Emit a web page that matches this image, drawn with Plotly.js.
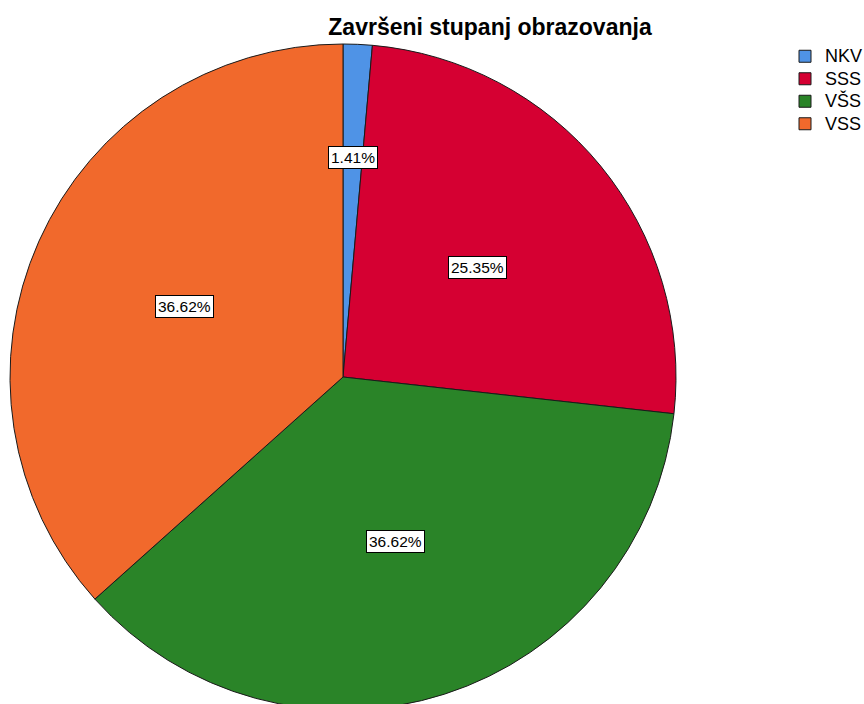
<!DOCTYPE html>
<html>
<head>
<meta charset="utf-8">
<script src="https://cdn.plot.ly/plotly-3.0.1.min.js"></script>
<style>
html,body{margin:0;padding:0;overflow:hidden;background:#fff;}
#chart{width:864px;height:720px;}
</style>
</head>
<body>
<div id="chart"></div>
<script>
const categories = ["NKV", "SSS", "VŠS", "VSS"];
const counts = [1, 18, 26, 26];
const sliceColors = ["#4F93E6", "#D50032", "#2A8428", "#F1692C"];
const chartTitle = "Završeni stupanj obrazovanja";

const W = 864, H = 720;
const cx = 343, cy = 377, R = 333;

const total = counts.reduce((a, b) => a + b, 0);
const annotations = [];
let cum = 0;
counts.forEach((v, i) => {
  const frac = v / total;
  const mid = cum + frac / 2;
  cum += frac;
  const ang = Math.PI / 2 - mid * 2 * Math.PI;
  const rr = frac < 0.05 ? 0.66 : 0.52;
  const px = cx + rr * R * Math.cos(ang);
  const py = cy - rr * R * Math.sin(ang);
  annotations.push({
    xref: "paper", yref: "paper",
    x: px / W, y: 1 - py / H,
    xanchor: "center", yanchor: "middle",
    text: (frac * 100).toFixed(2) + "%",
    showarrow: false,
    font: {family: "Liberation Sans, Arial, sans-serif", size: 15.5, color: "#000"},
    bgcolor: "#ffffff",
    bordercolor: "#000000",
    borderwidth: 1,
    borderpad: 2
  });
});

const legendLabels = categories.map(c => '<span style="font-size:18px">' + c + '</span>');

const trace = {
  type: "pie",
  labels: legendLabels,
  values: counts,
  sort: false,
  direction: "clockwise",
  rotation: 0,
  textinfo: "none",
  hoverinfo: "percent",
  marker: {colors: sliceColors, line: {color: "#1a1a1a", width: 1}},
  domain: {x: [(cx - R) / W, (cx + R) / W], y: [1 - (cy + R) / H, 1 - (cy - R) / H]}
};

const layout = {
  width: W, height: H,
  margin: {l: 0, r: 0, t: 0, b: 0, autoexpand: false},
  paper_bgcolor: "#fff",
  title: {
    text: "<b>" + chartTitle + "</b>",
    font: {family: "Liberation Sans, Arial, sans-serif", size: 23, color: "#000"},
    x: 490 / W, xanchor: "center",
    xref: "container",
    y: 1 - 27 / H, yref: "container", yanchor: "middle"
  },
  showlegend: true,
  legend: {
    x: 785 / W, xanchor: "left",
    y: 1 - 40 / H, yanchor: "top",
    font: {family: "Liberation Sans, Arial, sans-serif", size: 15, color: "#000"},
    tracegroupgap: 0,
    itemwidth: 30,
    bgcolor: "rgba(0,0,0,0)"
  },
  annotations: annotations
};

Plotly.newPlot("chart", [trace], layout, {displayModeBar: false, staticPlot: true});
</script>
</body>
</html>
